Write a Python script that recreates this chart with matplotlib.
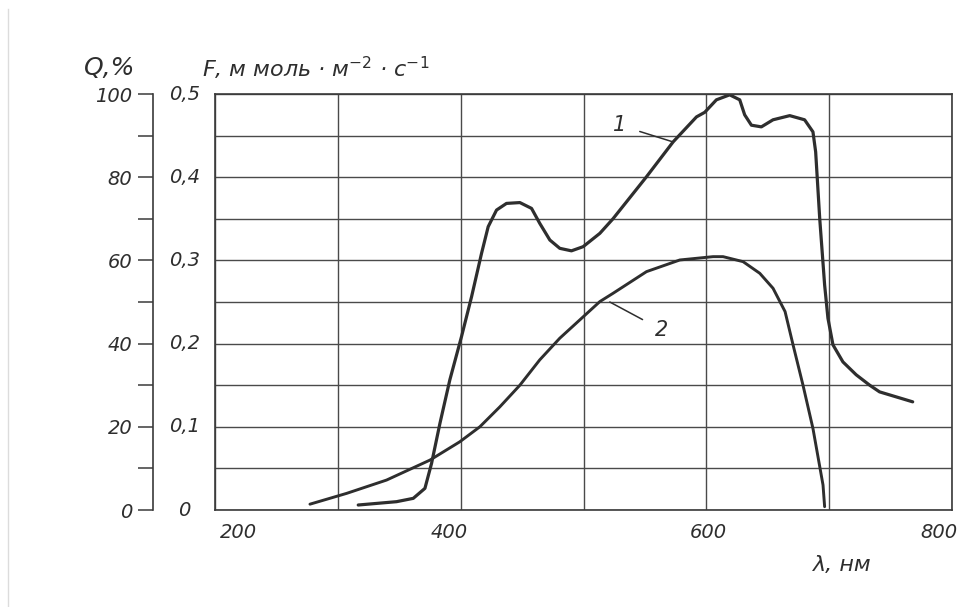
import matplotlib
matplotlib.use("Agg")
import matplotlib.pyplot as plt
import matplotlib.transforms as mtransforms
from matplotlib.lines import Line2D

# --- Data ---
# curve 1: Q, % vs wavelength, nm
wl_1 = [316.6, 347.8, 361.4, 370.9, 376.3, 383.1, 391.2, 400.7, 408.9, 417.0,
        422.4, 429.2, 437.3, 448.2, 457.7, 464.4, 472.6, 480.7, 490.2, 499.7,
        513.3, 524.0, 551.0, 573.0, 592.0, 598.7, 608.2, 619.0, 627.2, 631.2,
        636.7, 644.8, 654.3, 667.9, 680.0, 686.8, 689.0, 692.3, 696.3, 699.0,
        703.1, 711.2, 722.0, 733.0, 741.0, 768.0]
q_1 = [1.2, 2.0, 2.8, 5.2, 11.2, 20.8, 31.3, 41.7, 51.3, 61.7,
       68.1, 72.1, 73.7, 73.9, 72.5, 68.9, 64.9, 62.9, 62.3, 63.3,
       66.5, 70.0, 80.0, 88.5, 94.5, 95.6, 98.6, 99.8, 98.6, 95.0,
       92.5, 92.1, 93.8, 94.8, 93.8, 90.9, 86.1, 70.1, 54.1, 46.1,
       39.7, 35.6, 32.5, 30.0, 28.4, 26.0]

# curve 2: F (same grid, 0.5 mmol m-2 s-1 = 100)
wl_2 = [277.3, 307.2, 339.7, 375.0, 399.3, 415.6, 431.9, 448.2, 464.4, 480.7,
        497.0, 513.3, 524.1, 551.3, 578.4, 605.5, 613.6, 629.9, 643.5, 654.3,
        664.1, 670.6, 678.7, 686.8, 695.0, 696.3]
q_2 = [1.4, 4.0, 7.2, 12.0, 16.4, 20.0, 24.8, 30.0, 36.1, 41.3,
       45.7, 50.1, 52.1, 57.3, 60.1, 60.9, 60.9, 59.7, 56.9, 53.3,
       47.7, 39.7, 30.0, 19.6, 6.0, 0.8]

x_ticks = [200, 400, 600, 800]
q_ticks = [0, 20, 40, 60, 80, 100]
f_labels = ["0", "0,1", "0,2", "0,3", "0,4", "0,5"]

ink = "#2e2e2e"
plt.rcParams["font.family"] = ["DejaVu Sans"]

fig = plt.figure(figsize=(9.6, 6.07), dpi=100)
ax = fig.add_axes([215 / 960, 97 / 607, 737 / 960, 416 / 607])

ax.set_xlim(200, 800)
ax.set_ylim(0, 100)
ax.set_xticks(range(200, 801, 100))
ax.set_xticklabels([])
ax.set_yticks(range(0, 101, 10))
ax.set_yticklabels([])
ax.tick_params(axis="both", length=0)
ax.grid(True, color="#4a4a4a", linewidth=1.0)
for sp in ax.spines.values():
    sp.set_color("#3a3a3a")
    sp.set_linewidth(1.2)

ax.plot(wl_1, q_1, color=ink, linewidth=2.3, solid_capstyle="round", solid_joinstyle="round")
ax.plot(wl_2, q_2, color=ink, linewidth=2.1, solid_capstyle="round", solid_joinstyle="round")

# x labels, hand-placed slightly off the grid lines as in the drawing
xtrans = mtransforms.blended_transform_factory(ax.transData, ax.transAxes)
label_x = [219, 391, 602, 804.5]
label_ha = ["center", "center", "center", "right"]
for v, lx, ha in zip(x_ticks, label_x, label_ha):
    ax.text(lx, -0.055, str(v), transform=xtrans, ha=ha, va="center",
            fontsize=14, style="italic", color=ink, clip_on=False)

# curve labels with leader lines
ax.annotate("1", xy=(572.7, 88.5), xytext=(529.5, 92.5), fontsize=15, style="italic",
            color=ink, ha="center", va="center",
            arrowprops=dict(arrowstyle="-", color=ink, lw=1.1, shrinkA=8, shrinkB=0))
ax.annotate("2", xy=(521.4, 50.0), xytext=(563.7, 43.3), fontsize=15, style="italic",
            color=ink, ha="center", va="center",
            arrowprops=dict(arrowstyle="-", color=ink, lw=1.1, shrinkA=8, shrinkB=0))

# F labels (inner scale)
trans = mtransforms.blended_transform_factory(ax.transAxes, ax.transData)
for q, lab in zip(q_ticks, f_labels):
    ax.text(-0.0415, q, lab, transform=trans, ha="center", va="center",
            fontsize=14, style="italic", color=ink)

# Q, % scale (outer axis)
qax = ax.secondary_yaxis(-0.084)
qax.set_yticks(q_ticks)
qax.set_yticklabels([str(v) for v in q_ticks], fontsize=14, style="italic", color=ink)
qax.set_yticks(range(10, 100, 20), minor=True)
qax.tick_params(axis="y", which="both", direction="out", length=11, width=1.1,
                color="#3a3a3a", pad=4)
qax.spines["left"].set_color("#3a3a3a")
qax.spines["left"].set_linewidth(1.2)

# headers and axis name
fig.text(110 / 960, 1 - 68 / 607, "Q,%", fontsize=18, style="italic", color=ink,
         ha="center", va="center")
fig.text(202 / 960, 1 - 68 / 607, "F, м моль · м$^{-2}$ · с$^{-1}$", fontsize=16,
         style="italic", color=ink, ha="left", va="center")
fig.text(842 / 960, 1 - 565 / 607, "λ, нм", fontsize=16, style="italic", color=ink,
         ha="center", va="center")

# faint scan edge on the left
fig.add_artist(Line2D([8 / 960, 8 / 960], [0, 0.985], color="#dcdcdc", linewidth=1.0))

fig.savefig("out.png", dpi=100)
